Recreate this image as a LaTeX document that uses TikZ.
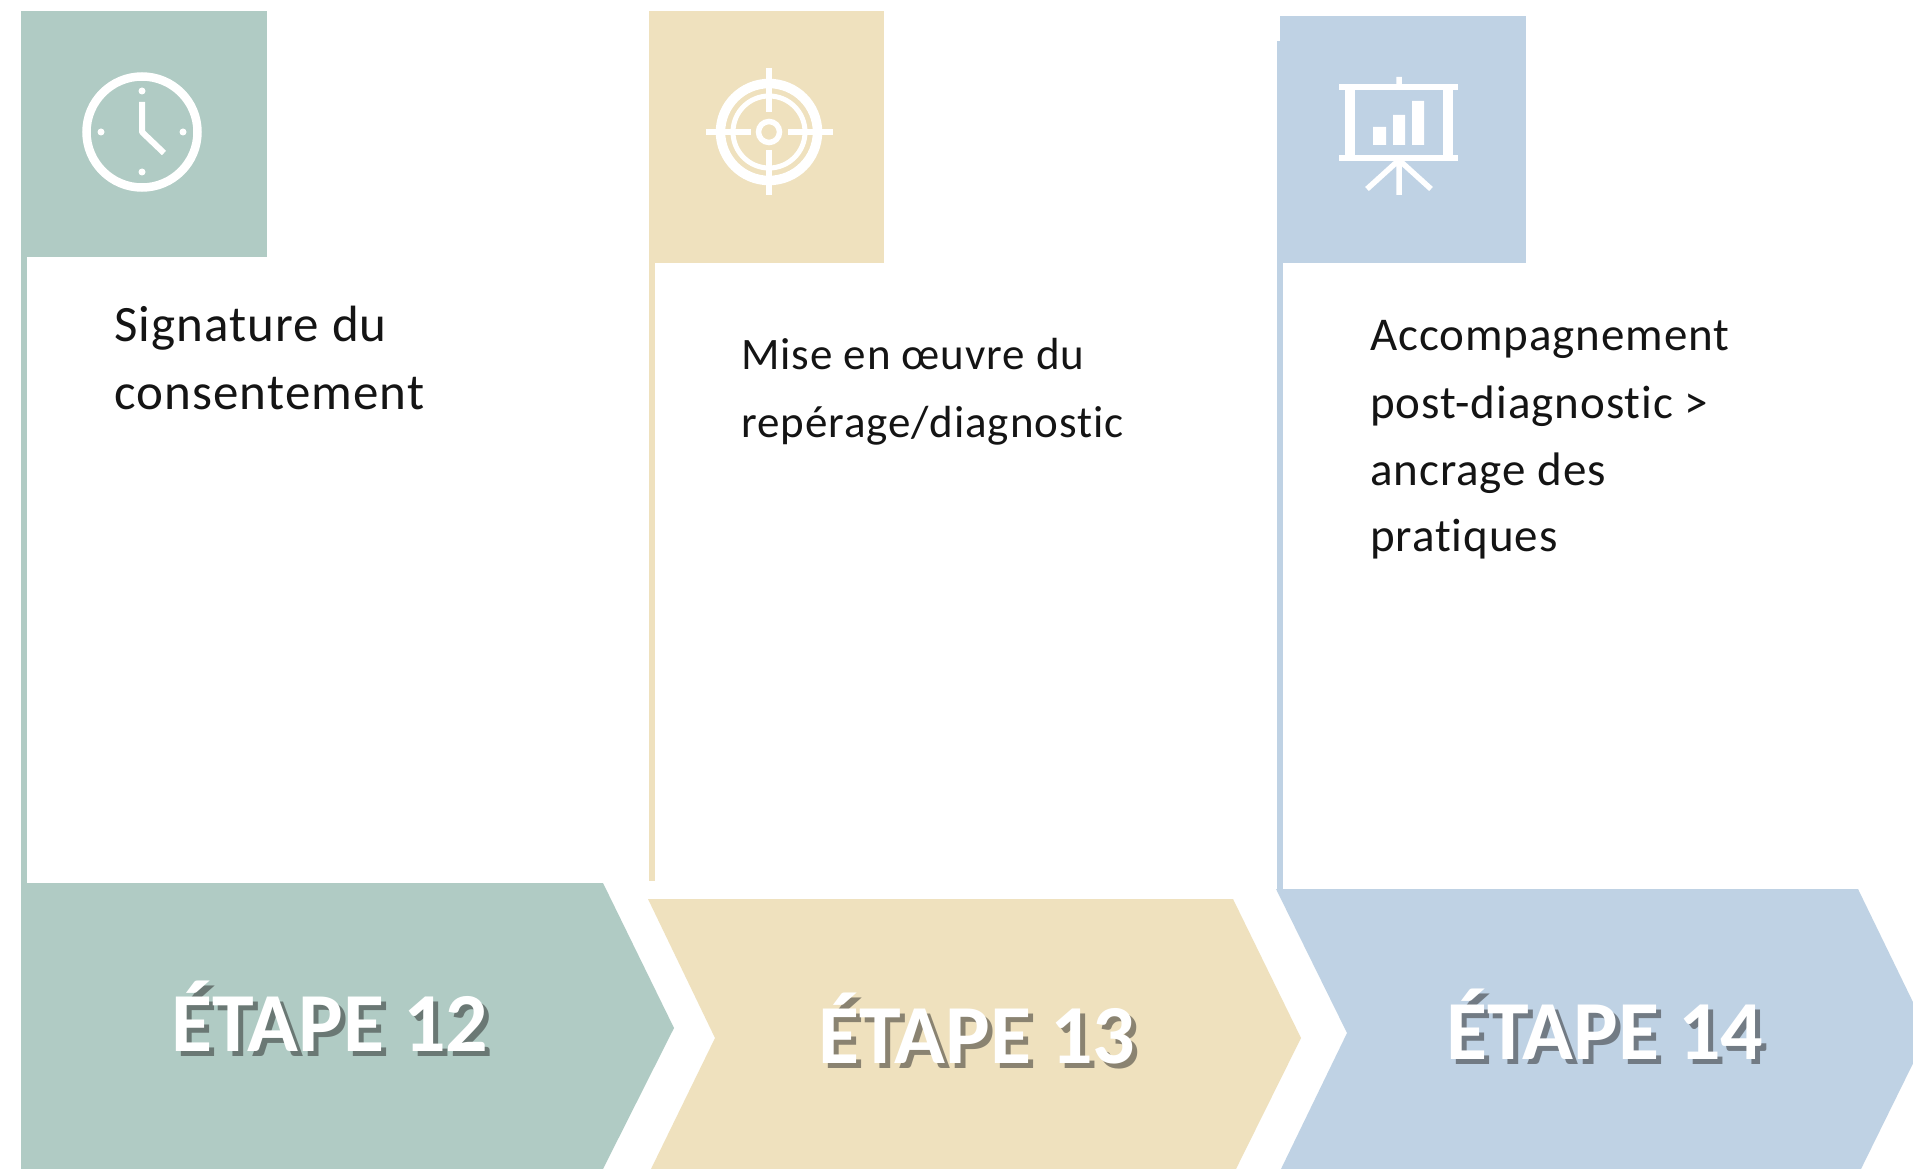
\documentclass[tikz,border=0pt]{standalone}
\usepackage{fontspec}
\setmainfont{Carlito}
\newfontfamily\bodya[LetterSpace=2.2,Ligatures=NoCommon]{Carlito}
\newfontfamily\bodyb[LetterSpace=2.0,Ligatures=NoCommon]{Carlito}
\definecolor{cgreen}{HTML}{B0CBC4}
\definecolor{cbeige}{HTML}{EFE1BE}
\definecolor{cblue}{HTML}{BFD2E4}
\tikzset{
  panel/.style={fill=#1,draw=none},
  ico/.style={draw=white,line width=#1},
  bodytext/.style={anchor=base west,inner sep=0pt,text=black!92},
  titletext/.style={anchor=base,inner sep=0pt,font=\fontsize{84}{84}\bfseries},
}
\newcommand{\etape}[4]{%
  \node[titletext,text=black!85,opacity=.5] (#4s) at (#1+5,#2+5) {ÉTAPE #3};
  \node[titletext,text=white] (#4) at (#1,#2) {ÉTAPE #3};
}
\begin{document}
\begin{tikzpicture}[x=1pt,y=-1pt]
\useasboundingbox (0,0) rectangle (1913,1169);
\clip (0,0) rectangle (1913,1169);
\fill[white] (0,0) rectangle (1913,1169);
% green
\fill[panel=cgreen] (21,11) rectangle (267,257);
\fill[panel=cgreen] (21,257) rectangle (27,883);
\fill[panel=cgreen] (21,883) -- (603,883) -- (674,1028) -- (603,1169) -- (21,1169) -- cycle;
% beige
\fill[panel=cbeige] (649,11) rectangle (884,263);
\fill[panel=cbeige] (649,263) rectangle (655,881);
\fill[panel=cbeige] (648,899) -- (1233,899) -- (1301,1038) -- (1236,1169) -- (651,1169) -- (715,1038) -- cycle;
% blue
\fill[panel=cblue] (1280,16) rectangle (1526,263);
\fill[panel=cblue] (1277,41) rectangle (1283,889);
\fill[panel=cblue] (1276,889) -- (1858,889) -- (1928,1033) -- (1861,1169) -- (1281,1169) -- (1347,1033) -- cycle;
% clock
\draw[ico=8.5pt] (142,132) circle (55.5);
\foreach \a/\b in {142/91,142/172,101/132,183/132}{\fill[white] (\a,\b) circle (3.5);}
\draw[ico=6pt,line join=round] (142,102) -- (142,132) -- (164,153);
% target
\draw[ico=9.5pt] (769,132) circle (48.5);
\draw[ico=5pt] (769,132) circle (36);
\draw[ico=5.5pt] (769,132) circle (10.5);
\draw[ico=6.5pt] (706,132) -- (751,132) (788,132) -- (833,132) (769,68) -- (769,112) (769,150) -- (769,195);
% screen
\draw[ico=6.5pt] (1339,87) -- (1458,87) (1339,158) -- (1458,158);
\draw[ico=10pt] (1350,87) -- (1350,158) (1448,87) -- (1448,158);
\draw[ico=5.5pt] (1399,77) -- (1399,87) (1399,158) -- (1399,195) (1399,160) -- (1367,189) (1399,160) -- (1431,189);
\fill[white] (1373,127) rectangle (1386,145) (1393,115) rectangle (1405,145) (1412,101) rectangle (1424,145);
% texts
\node[bodytext,font=\bodya\fontsize{51}{51}\selectfont] (t1a) at (114,341) {Signature du};
\node[bodytext,font=\bodya\fontsize{51}{51}\selectfont] (t1b) at (114,409) {consentement};
\node[bodytext,font=\bodyb\fontsize{45}{45}\selectfont] (t2a) at (741,369) {Mise en œuvre du};
\node[bodytext,font=\bodyb\fontsize{45}{45}\selectfont] (t2b) at (741,437) {repérage/diagnostic};
\node[bodytext,font=\bodyb\fontsize{47}{47}\selectfont] (t3a) at (1370,350) {Accompagnement};
\node[bodytext,font=\bodyb\fontsize{47}{47}\selectfont] (t3b) at (1370,418) {post-diagnostic >};
\node[bodytext,font=\bodyb\fontsize{47}{47}\selectfont] (t3c) at (1370,485) {ancrage des};
\node[bodytext,font=\bodyb\fontsize{47}{47}\selectfont] (t3d) at (1370,551) {pratiques};
\etape{330}{1051}{12}{e1}
\etape{977}{1063}{13}{e2}
\etape{1605}{1059}{14}{e3}
\end{tikzpicture}
\end{document}
